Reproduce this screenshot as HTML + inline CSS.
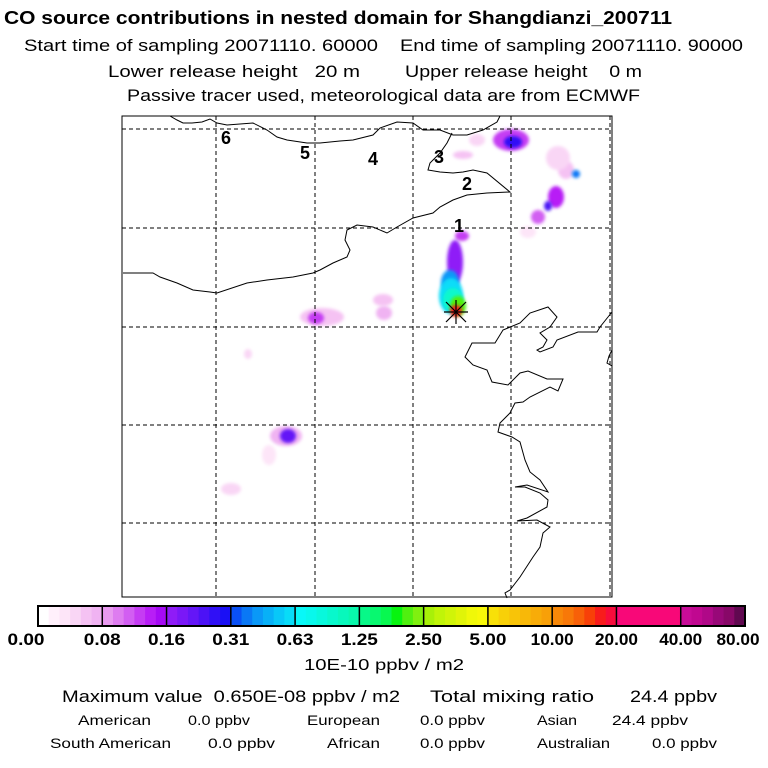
<!DOCTYPE html>
<html><head><meta charset="utf-8"><style>
body{margin:0;background:#fff}
svg{display:block;font-family:"Liberation Sans",sans-serif}
</style></head><body>
<svg id="c" width="768" height="768" viewBox="0 0 768 768">
<defs><filter id="bl" x="-50%" y="-50%" width="200%" height="200%"><feGaussianBlur stdDeviation="1.5"/></filter></defs>
<g font-size="17">
<text x="4" y="24" font-weight="bold" font-size="18" textLength="668" lengthAdjust="spacingAndGlyphs">CO  source contributions in nested domain for Shangdianzi_200711</text>
<text x="24" y="51" textLength="354" lengthAdjust="spacingAndGlyphs">Start time of sampling 20071110. 60000</text>
<text x="400" y="51" textLength="343" lengthAdjust="spacingAndGlyphs">End time of sampling 20071110. 90000</text>
<text x="108" y="77" textLength="252" lengthAdjust="spacingAndGlyphs" xml:space="preserve">Lower release height   20 m</text>
<text x="405" y="77" textLength="237" lengthAdjust="spacingAndGlyphs" xml:space="preserve">Upper release height    0 m</text>
<text x="127" y="101" textLength="513" lengthAdjust="spacingAndGlyphs">Passive tracer used, meteorological data are from ECMWF</text>
</g>
<g id="blobs"></g>
<g id="grid"></g>
<g fill="none" stroke="#000" stroke-width="1">
<polyline points="170,116 177,120 183,123 192,123 202,122 210,119 217,123 227,125 253,123 267,130 277,137 287,140 307,143 320,143 340,141 353,140 373,135 380,128 397,122 413,123 423,130 440,130 453,135 467,135 483,130 497,122 500,116"/>
<polyline points="452,133 447,143 440,153 430,163 428,170 440,172 453,173 463,172 473,170 487,173 510,192 487,193 467,195 453,200 440,207 433,213 413,218 397,227 387,233 373,227 357,225 347,230 345,240 350,250 347,257 333,263 320,270 313,273 293,277 267,280 247,283 217,293 210,292 193,290 177,283 160,277 153,273 123,273"/>
<polyline points="612,312 600,327 597,332 578,332 557,340 553,347 540,352 537,350 543,347 547,340 540,333 550,327 557,317 548,307 530,313 520,323 503,330 495,343 472,343 465,357 473,365 487,370 492,382 508,385 520,373 528,371 547,379 563,379 558,391 550,387 530,397 523,402 515,403 510,413 500,423 498,432 512,437 520,442 525,460 530,472 540,480 548,492 527,485 515,487 525,487 540,493 548,500 547,507 527,518 517,521 537,520 550,527 543,533 540,547 533,557 520,577 510,590 505,593 507,598"/>
<polyline points="612,350 609,356 607,363 612,366 612,372"/>
</g>
<rect x="122" y="116" width="490" height="481" fill="none" stroke="#000"/>
<g font-size="18" font-weight="bold">
<text x="221" y="144">6</text><text x="300" y="159">5</text><text x="368" y="165">4</text><text x="434" y="163">3</text><text x="462" y="190">2</text><text x="454" y="232">1</text>
</g>
<g stroke="#000" stroke-width="1.2">
<line x1="444" y1="312" x2="468" y2="312"/><line x1="456" y1="300" x2="456" y2="324"/>
<line x1="446" y1="302" x2="466" y2="322"/><line x1="466" y1="302" x2="446" y2="322"/>
</g>
<g id="cbar"></g>
<text x="384" y="670" font-size="16" text-anchor="middle" textLength="160" lengthAdjust="spacingAndGlyphs">10E-10 ppbv / m2</text>
<g font-size="17">
<text x="62" y="702" textLength="338" lengthAdjust="spacingAndGlyphs" xml:space="preserve">Maximum value  0.650E-08 ppbv / m2</text>
<text x="430" y="702" textLength="164" lengthAdjust="spacingAndGlyphs">Total mixing ratio</text>
<text x="630" y="702" textLength="87" lengthAdjust="spacingAndGlyphs">24.4 ppbv</text>
</g>
<g font-size="14">
<text x="78" y="725" textLength="73" lengthAdjust="spacingAndGlyphs">American</text>
<text x="188" y="725" textLength="62" lengthAdjust="spacingAndGlyphs">0.0 ppbv</text>
<text x="307" y="725" textLength="73" lengthAdjust="spacingAndGlyphs">European</text>
<text x="420" y="725" textLength="65" lengthAdjust="spacingAndGlyphs">0.0 ppbv</text>
<text x="537" y="725" textLength="40" lengthAdjust="spacingAndGlyphs">Asian</text>
<text x="612" y="725" textLength="76" lengthAdjust="spacingAndGlyphs">24.4 ppbv</text>
<text x="50" y="748" textLength="121" lengthAdjust="spacingAndGlyphs">South American</text>
<text x="208" y="748" textLength="67" lengthAdjust="spacingAndGlyphs">0.0 ppbv</text>
<text x="327" y="748" textLength="53" lengthAdjust="spacingAndGlyphs">African</text>
<text x="420" y="748" textLength="65" lengthAdjust="spacingAndGlyphs">0.0 ppbv</text>
<text x="537" y="748" textLength="73" lengthAdjust="spacingAndGlyphs">Australian</text>
<text x="652" y="748" textLength="65" lengthAdjust="spacingAndGlyphs">0.0 ppbv</text>
</g>
</svg>
<script>
const tickLabels=["0.00","0.08","0.16","0.31","0.63","1.25","2.50","5.00","10.00","20.00","40.00","80.00"];
const segColors=[
["#ffffff","#fff0fb","#fde5f8","#f9d6f5","#f5c2f3","#f0b3f2"],
["#e99af0","#de7cf0","#d25ef2","#c53cf3","#b81ef6","#a60af5"],
["#8f1cf7","#7a18f7","#6416f7","#4c12f6","#3010f6","#1a10f5"],
["#0a50f5","#0a78f5","#0a98f7","#08b0f7","#08c8f8","#08dcf8"],
["#08f8f8","#08f8ec","#08f8dc","#08f8cc","#08f8bc","#08f8ac"],
["#08f888","#08f870","#08f850","#08f410","#50f010","#80f010"],
["#a8f008","#c0f408","#d0f408","#e0f408","#f0f808","#f8f808"],
["#f8e008","#f8d008","#f8c408","#f8b808","#f8ac08","#f8a008"],
["#f88808","#f87808","#f86008","#f84008","#f81c1c","#f80c3c"],
["#f80878","#f80878","#f80878","#f80878","#f80878","#f80878"],
["#c80c98","#c00890","#b00888","#980878","#880868","#600850"]
];
const blobX=[511,513,566,576,556,548,538,462,455,450,451,453,458,456,322,316,383,384,463,248,286,288,269,231,477,558,528];
const blobY=[140,142,170,174,197,206,217,236,262,282,296,300,306,311,317,318,300,313,155,354,436,436,455,489,140,158,232];
const blobRX=[18,9,8,4,8,4,7,7,8,9,12,10,8,6,22,8,10,8,10,4,16,8,7,10,8,12,8];
const blobRY=[11,6,9,4,11,5,7,5,22,12,18,12,10,6,9,6,6,7,4,5,10,7,10,6,6,12,6];
const blobLvl=[[1,3],[2,4],[0,4],[3,1],[1,4],[2,3],[1,2],[1,3],[2,0],[3,2],[3,5],[4,3],[5,4],[8,4],[0,4],[1,3],[0,4],[0,5],[0,4],[0,3],[0,5],[2,2],[0,2],[0,3],[0,3],[0,3],[0,2]];
const NS='http://www.w3.org/2000/svg';
function mk(t,a){const e=document.createElementNS(NS,t);for(const k in a)e.setAttribute(k,a[k]);return e;}
const blobs=document.getElementById('blobs');
for(let i=0;i<blobX.length;i++){
  const c=segColors[blobLvl[i][0]][blobLvl[i][1]];
  const e=mk('ellipse',{cx:blobX[i],cy:blobY[i],rx:blobRX[i],ry:blobRY[i],fill:c,filter:'url(#bl)'});
  
  
  blobs.appendChild(e);
}
const gx0=122,gx1=612,gy0=116,gy1=597;
const lonLines=[216,315,413,511,610];
const latLines=[129,228,327,425,523];
const grid=document.getElementById('grid');
lonLines.forEach(x=>{const l=mk('line',{x1:x,y1:gy0,x2:x,y2:gy1,stroke:'#000','stroke-dasharray':'4,3'});
  grid.appendChild(l);});
latLines.forEach(y=>{const l=mk('line',{x1:gx0,y1:y,x2:gx1,y2:y,stroke:'#000','stroke-dasharray':'4,3'});
  grid.appendChild(l);});
const cb=document.getElementById('cbar');
const cx0=38,cx1=745,cy=606,ch=20;
const segW=(cx1-cx0)/segColors.length;
const xScale=i=>cx0+i*segW;
segColors.forEach((shades,s)=>{
  shades.forEach((c,j)=>{
    const r=mk('rect',{x:xScale(s)+j*segW/shades.length,y:cy,width:segW/shades.length+0.5,height:ch,fill:c});
    cb.appendChild(r);
  });
  if(s>0){const l=mk('line',{x1:xScale(s),y1:cy,x2:xScale(s),y2:cy+ch,stroke:'#000','stroke-width':1.5});
    cb.appendChild(l);}
});
const fr=mk('rect',{x:cx0,y:cy,width:cx1-cx0,height:ch,fill:'none',stroke:'#000','stroke-width':2});
cb.appendChild(fr);
tickLabels.forEach((t,i)=>{
  let x=xScale(i);
  if(i===0)x=26; if(i===tickLabels.length-1)x=738;
  const e=mk('text',{x:x,y:645,'font-size':17,'font-weight':'bold','text-anchor':'middle',textLength:t.length>4?43:37,lengthAdjust:'spacingAndGlyphs'});
  e.textContent=t;
  
  
  cb.appendChild(e);
});
</script>
</body></html>
